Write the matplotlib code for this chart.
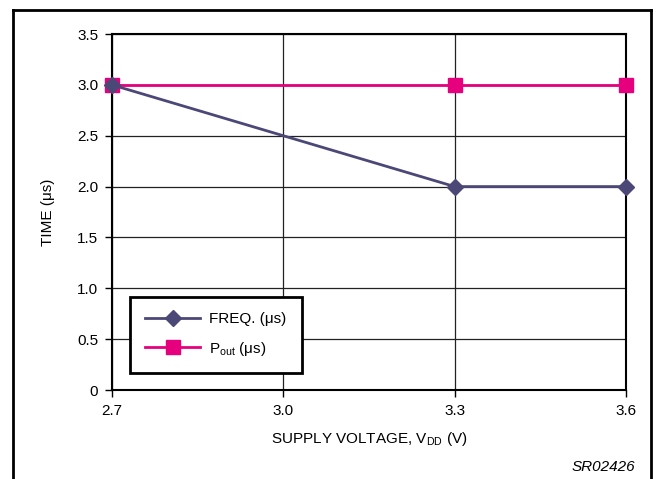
import matplotlib.pyplot as plt
from matplotlib.lines import Line2D

plt.rcParams['font.family'] = ['Liberation Sans', 'DejaVu Sans']
plt.rcParams['mathtext.default'] = 'regular'

voltage = [2.7, 3.3, 3.6]
freq_time = [3.0, 2.0, 2.0]
pout_volt = [2.7, 3.3, 3.6]
pout_time = [3.0, 3.0, 3.0]
xticks = [2.7, 3.0, 3.3, 3.6]
yticks = [0, 0.5, 1.0, 1.5, 2.0, 2.5, 3.0, 3.5]
ytick_labels = ["0", "0.5", "1.0", "1.5", "2.0", "2.5", "3.0", "3.5"]

freq_color = "#4b4878"
pout_color = "#e6007e"

fig = plt.figure(figsize=(6.56, 4.79), dpi=100)
ax = fig.add_axes([0.1707, 0.1858, 0.7836, 0.7432])

# outer frame, open at the bottom
for xs, ys in [([0.02, 0.02], [0, 0.979]), ([0.02, 0.993], [0.979, 0.979]),
               ([0.993, 0.993], [0.979, 0])]:
    fig.add_artist(Line2D(xs, ys, transform=fig.transFigure, color="black", lw=2))

ax.set_xlim(2.7, 3.6)
ax.set_ylim(0, 3.5)
ax.set_xticks(xticks)
ax.set_xticklabels(["2.7", "3.0", "3.3", "3.6"])
ax.set_yticks(yticks)
ax.set_yticklabels(ytick_labels)
ax.grid(True, color="#222222", lw=0.9)
ax.set_axisbelow(True)
for s in ax.spines.values():
    s.set_linewidth(1.5)
ax.tick_params(axis="both", direction="out", length=5, width=1, labelsize=11, pad=5)

ax.plot(pout_volt, pout_time, color=pout_color, lw=2, marker="s", ms=10,
        clip_on=False, zorder=3, label="P$_{out}$ (\u03bcs)")
ax.plot(voltage, freq_time, color=freq_color, lw=2, marker="D", ms=8,
        clip_on=False, zorder=4, label="FREQ. (\u03bcs)")

handles, labels = ax.get_legend_handles_labels()
leg = ax.legend(handles[::-1], labels[::-1], loc="lower left",
                bbox_to_anchor=(0.035, 0.048), borderaxespad=0,
                fancybox=False, edgecolor="black", framealpha=1,
                handlelength=3.6, handletextpad=0.6, fontsize=11,
                borderpad=1.0, labelspacing=0.9)
leg.get_frame().set_linewidth(2)

ax.set_xlabel("SUPPLY VOLTAGE, V$_{DD}$ (V)", fontsize=11, labelpad=9)
ax.set_ylabel("TIME (\u03bcs)", fontsize=11, labelpad=16)
fig.text(0.968, 0.025, "SR02426", ha="right", va="center", fontsize=11, style="italic")

fig.savefig("out.png", dpi=100)
